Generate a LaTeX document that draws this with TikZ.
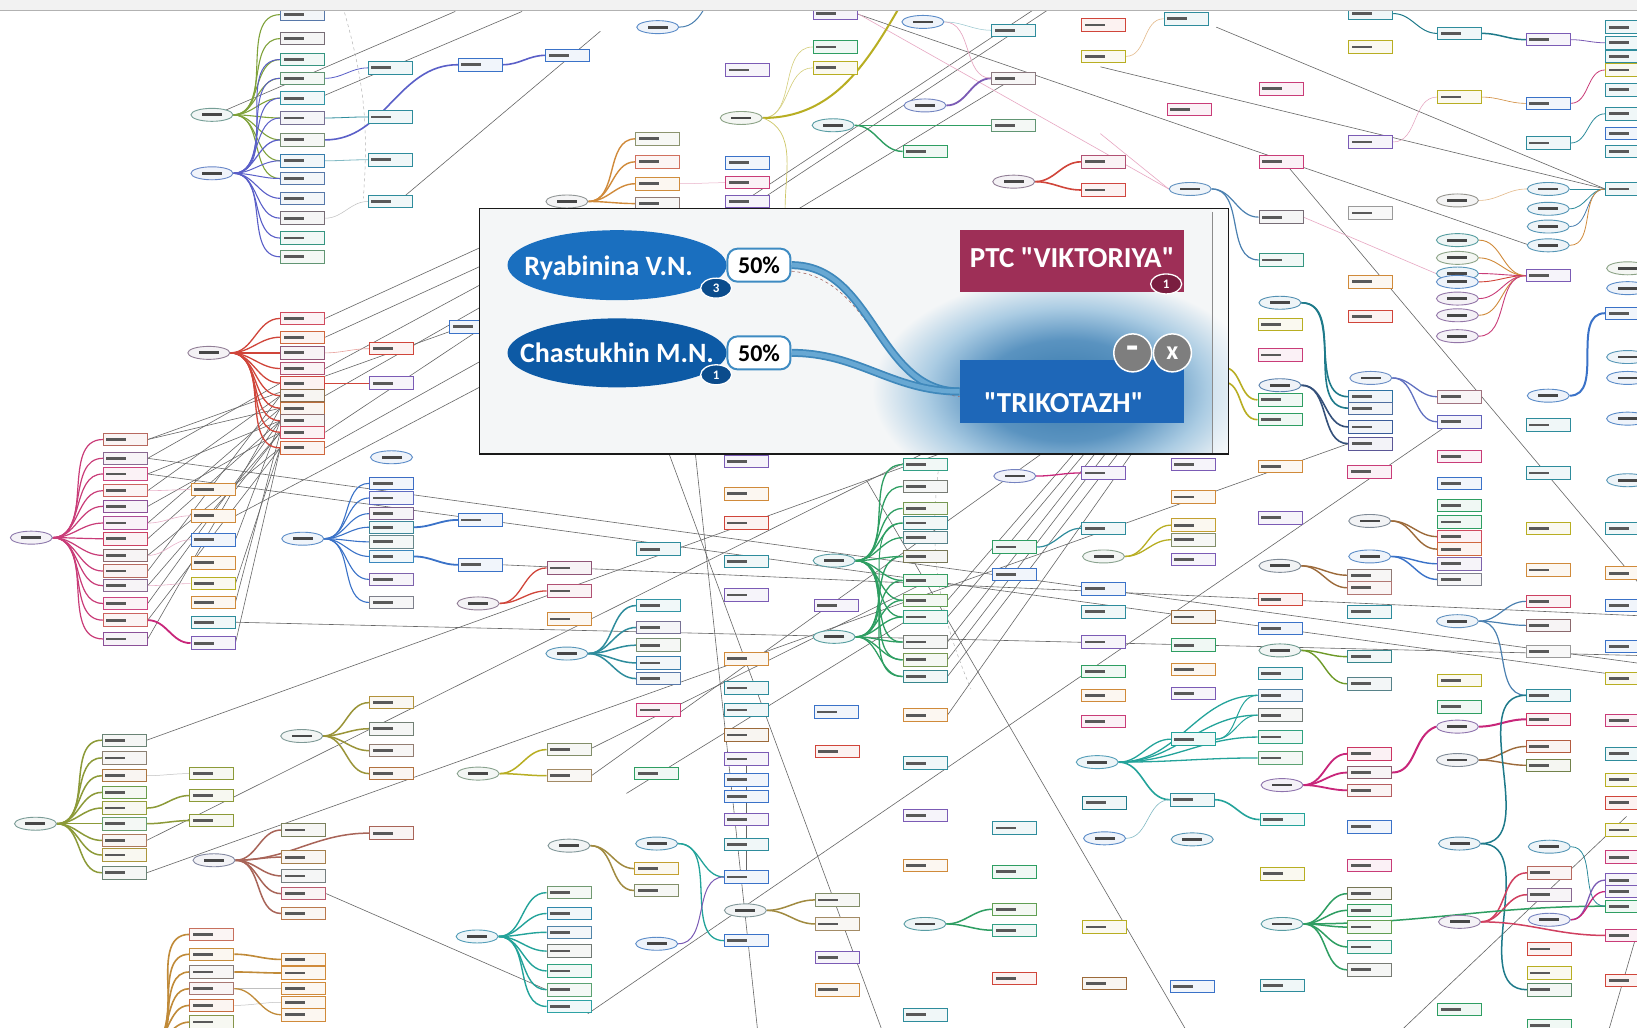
\documentclass[tikz,border=0pt]{standalone}
\usepackage{fontspec}
\newfontfamily\popfont{Carlito}
\usetikzlibrary{shapes.geometric}
\pgfdeclarelayer{bg}
\pgfdeclarelayer{lines}
\pgfdeclarelayer{edges}
\pgfdeclarelayer{top}
\pgfsetlayers{bg,lines,edges,main,top}
\definecolor{cA1}{HTML}{7FA23A}
\definecolor{cA2}{HTML}{5A5FC8}
\definecolor{cB}{HTML}{D0453A}
\definecolor{cC}{HTML}{C93C78}
\definecolor{cC2}{HTML}{3A72C8}
\definecolor{cD}{HTML}{8C9A38}
\definecolor{cE}{HTML}{A86458}
\definecolor{cF}{HTML}{9A9438}
\definecolor{cG}{HTML}{C08A38}
\definecolor{cH}{HTML}{B8AE22}
\definecolor{cJ}{HTML}{2E8C9C}
\definecolor{cK}{HTML}{2E9E62}
\definecolor{cT}{HTML}{23A39A}
\definecolor{cM}{HTML}{C8267A}
\definecolor{cN}{HTML}{34507A}
\definecolor{cO}{HTML}{D08A3A}
\definecolor{cP}{HTML}{7B5BB5}
\definecolor{cP2}{HTML}{6070C0}
\definecolor{cDT}{HTML}{1E7A8A}
\definecolor{cBr}{HTML}{9C6A3A}
\definecolor{cSB}{HTML}{4A80B0}
\definecolor{cRd}{HTML}{D04060}
\definecolor{cQ}{HTML}{6E9A28}
\definecolor{cOl}{HTML}{A08A40}
\definecolor{cGr}{HTML}{9A9A9A}
\definecolor{elb}{HTML}{6F9CC8}
\definecolor{bc0}{HTML}{3AA0B0}
\definecolor{bc1}{HTML}{D0508A}
\definecolor{bc2}{HTML}{D09040}
\definecolor{bc3}{HTML}{4068C0}
\definecolor{bc4}{HTML}{8A60B8}
\definecolor{bc5}{HTML}{D04848}
\definecolor{bc6}{HTML}{40A060}
\definecolor{bc7}{HTML}{A0A040}
\definecolor{popbg}{HTML}{F4F6F7}
\definecolor{glowA}{HTML}{3577AB}
\definecolor{glowM}{HTML}{5A93C0}
\definecolor{glowB}{HTML}{ABCCE3}
\definecolor{ryab}{HTML}{1A6FBF}
\definecolor{chas}{HTML}{0D5AA5}
\definecolor{cntb}{HTML}{0B4C8C}
\definecolor{pctb}{HTML}{3E8BC2}
\definecolor{ptc}{HTML}{9E2F57}
\definecolor{ptcb}{HTML}{7A1E40}
\definecolor{trik}{HTML}{1E67B8}
\definecolor{btng}{HTML}{7E7E7E}
\definecolor{conA}{HTML}{3F88BB}
\definecolor{conB}{HTML}{68A8D3}
\pgfdeclareradialshading{glow}{\pgfpoint{0bp}{0bp}}{color(0bp)=(glowA); color(11bp)=(glowM); color(18bp)=(glowB); color(25bp)=(popbg); color(50bp)=(popbg)}
\tikzset{
  bx/.style={rectangle, draw=#1, line width=0.9pt, fill=#1!7, minimum width=44pt, minimum height=12.5pt, inner sep=0pt,
    path picture={\fill[black!65] ([xshift=3pt,yshift=-1.4pt]path picture bounding box.west) rectangle ++(20pt,2.8pt);}},
  el/.style={ellipse, draw=#1, line width=0.9pt, fill=#1!10, minimum width=42pt, minimum height=13pt, inner sep=0pt,
    path picture={\fill[black!72] ([xshift=-10pt,yshift=-1.4pt]path picture bounding box.center) rectangle ++(20pt,2.8pt);}},
  gline/.style={draw=black!60, line width=0.6pt},
  pline/.style={draw=cC!45, line width=0.6pt},
  ptxt/.style={text=white, inner sep=0pt, font=\popfont\bfseries\fontsize{28}{30}\selectfont},
  pct/.style={rectangle, rounded corners=10pt, draw=pctb, line width=2pt, fill=white, minimum width=63pt, minimum height=33pt, inner sep=0pt, font=\popfont\bfseries\fontsize{24}{26}\selectfont},
  cnt/.style={ellipse, draw=white, line width=1.3pt, minimum width=31pt, minimum height=20pt, inner sep=0pt, text=white, font=\popfont\bfseries\fontsize{13}{14}\selectfont},
  btn/.style={circle, fill=btng, draw=white, line width=1.5pt, minimum size=38pt, inner sep=0pt, text=white, font=\popfont\bfseries\fontsize{26}{28}\selectfont},
  connout/.style={draw=conA, line width=8pt},
  connin/.style={draw=conB, line width=4.5pt}
}
\newcommand\mytree[8]{%
  \node[el={#4!35!elb}] (#1) at (#2,#3) {};
  \foreach \yy [count=\k] in {#7} {%
    \pgfmathtruncatemacro\mymod{mod(\k+#2,8)}%
    \edef\mycol{#5!55!bc\mymod}%
    \node[bx=\mycol] (#1-\k) at (#6,\yy) {};
    \begin{pgfonlayer}{edges}
      \draw[#4, line width=#8] (#1.east) to[out=0,in=180] (#1-\k.west);
    \end{pgfonlayer}
  }%
}
\newcommand\myboxes[2]{\foreach \xx/\yy/\cc [count=\k] in {#2} {\node[bx=\cc] (#1\k) at (\xx,\yy) {};}}
\newcommand\myells[2]{\foreach \xx/\yy/\cc [count=\k] in {#2} {\node[el={\cc!40!elb}] (#1\k) at (\xx,\yy) {};}}
\newcommand\myedges[1]{\begin{pgfonlayer}{edges}\foreach \ea/\eb/\ec/\ew in {#1} {\draw[\ec, line width=\ew] (\ea.east) to[out=0,in=180] (\eb.west);}\end{pgfonlayer}}
\newcommand\mynlines[1]{\begin{pgfonlayer}{lines}\foreach \ea/\eb in {#1} {\draw[gline] (\ea) -- (\eb);}\end{pgfonlayer}}
\newcommand\myqlines[2]{\begin{pgfonlayer}{lines}\foreach \ea/\ua/\ub [count=\k] in {#2} {\coordinate (#1\k) at (\ua,\ub); \draw[gline] (\ea) -- (#1\k);}\end{pgfonlayer}}
\newcommand\mylines[2]{\begin{pgfonlayer}{lines}\foreach \ua/\ub/\uc/\ud [count=\k] in {#2} {\coordinate (#1a\k) at (\ua,\ub); \coordinate (#1b\k) at (\uc,\ud); \draw[gline] (#1a\k) -- (#1b\k);}\end{pgfonlayer}}
\begin{document}
\begin{tikzpicture}[x=1.044pt, y=-1.044pt]
\useasboundingbox (0,0) rectangle (1568,984);
\begin{pgfonlayer}{bg}\fill[white] (0,0) rectangle (1568,984);\end{pgfonlayer}

% ---------- cluster A ----------
\mytree{A1}{203}{110}{cA1}{cJ}{290}{14,37,57,75,94,113,134,154,171}{1.1pt}
\mytree{A2}{203}{166}{cA2}{cJ}{290}{190,209,228,246}{1.1pt}
\myedges{A2/A1-3/cA2/1pt, A2/A1-4/cA2/1pt, A2/A1-5/cA2/1pt, A2/A1-6/cA2/1pt, A2/A1-7/cA2/1.2pt, A2/A1-8/cA2/1pt, A2/A1-9/cA2/1pt}
\myboxes{a}{374/65/cJ, 374/112/cJ, 374/153/cJ, 374/193/cJ, 460/62/cC2, 544/53/cC2}
\myedges{A1-4/a1/cA2/0.8pt, A1-6/a2/cJ/0.8pt, A1-8/a3/cJ!60/0.8pt, A2-2/a4/black!25/0.5pt, A1-7/a5/cA2/1.6pt, a5/a6/cA2/1.6pt}

% ---------- cluster B ----------
\mytree{B}{200}{338}{cB}{cB}{290}{305,323,338,353,367,379,391,403,414,429}{1.3pt}
\myboxes{b}{375/334/cB, 375/367/cP, 452/313/cC2}
\myedges{B-3/b1/cB!50/0.6pt, B-5/b2/cB/1pt}

% ---------- cluster C ----------
\mytree{C}{30}{515}{cC}{cC}{120}{421,439,454,470,485,501,516,532,547,561,578,594,612}{1.2pt}
\myboxes{c}{204/469/cO, 204/494/cO, 204/517/cC2, 204/539/cO, 204/559/cH, 204/577/cO, 204/596/cJ, 204/616/cP}
\myedges{C-4/c1/cC!40/0.6pt, C-6/c2/cC!40/0.6pt, C-8/c3/cC!40/0.6pt, C-10/c5/cC!40/0.6pt, C-12/c8/cM/1.8pt}
\mytree{C2}{290}{516}{cC2}{cC2}{375}{463,477,492,505,519,533,555,577}{1.1pt}
\myells{ce}{375/438/cC2}
\myboxes{d}{460/498/cC2, 460/541/cC2}
\myedges{C2-4/d1/cC2/1.8pt, C2-6/d2/cC2/1.8pt}

% ---------- clusters D E F G ----------
\mytree{D}{34}{789}{cD}{cD}{119}{709,726,743,759,774,789,805,819,836}{1.5pt}
\myboxes{dd}{203/741/cD, 203/762/cD, 203/786/cD}
\myedges{D-3/dd1/black!25/0.5pt, D-5/dd2/cD/1.5pt, D-6/dd3/cD/1.5pt}
\mytree{F}{289}{705}{cF}{cF}{375}{673,698,719,741}{1.5pt}
\mytree{E}{205}{824}{cE}{cE}{291}{795,821,839,856,875}{1.5pt}
\myboxes{ee}{375/798/cE}
\myedges{E/ee1/cE/1.5pt}
\mytree{G}{120}{1002}{cG}{cG}{203}{895,914,931,947,963,979}{1.6pt}
\myboxes{gg}{291/919/cO, 291/932/cO, 291/947/cO, 291/960/cO, 291/972/cO}
\myedges{G-2/gg1/cG/1.6pt, G-3/gg2/cG/1.6pt, G-4/gg3/black!25/0.5pt, G-5/gg4/black!25/0.5pt, G-4/gg5/cG/1.3pt}

% ---------- clusters H I J ----------
\mytree{H}{458}{741}{cH}{cH}{545}{718,743}{1.5pt}
\myboxes{h}{629/741/cK}
\mytree{I}{458}{578}{cB}{cB}{545}{544,566}{1.3pt}
\myboxes{i}{545/593/cO}
\mytree{J}{543}{626}{cJ}{cJ}{631}{580,601,618,635,650}{1.5pt}
\myboxes{j}{631/526/cJ, 631/680/cC}
\myboxes{m}{715/442/cP, 715/473/cO, 715/501/cB, 715/538/cJ, 715/570/cP, 715/631/cO, 715/659/cJ, 715/680/cJ, 715/704/cBr, 715/727/cP, 715/747/cC2, 715/763/cC2, 715/785/cP, 715/809/cJ, 715/840/cC2, 715/901/cC2}

% ---------- cluster K ----------
\mytree{K1}{799}{537}{cK}{cK}{886}{445,466,487,501,515,533,556,575,591,615,632,648}{1.3pt}
\myells{ke}{799/610/cK}
\myedges{ke1/K1-4/cK/1pt, ke1/K1-6/cK/1.3pt, ke1/K1-7/cK/1.3pt, ke1/K1-8/cK/1.3pt, ke1/K1-9/cK/1.3pt, ke1/K1-10/cK/1.3pt, ke1/K1-11/cK/1.3pt, ke1/K1-12/cK/1.3pt}
\myboxes{k}{886/685/cO, 801/580/cP, 801/682/cC2}

% ---------- right middle ----------
\myells{pe}{972/456/cP}
\myboxes{r}{1057/453/cP, 972/524/cK, 972/550/cC2, 1057/506/cJ, 1143/445/cP, 1143/476/cO, 1143/536/cP, 1057/564/cC2, 1057/586/cJ, 1057/615/cP, 1057/643/cK, 1057/666/cO, 1057/691/cC, 1143/591/cBr, 1143/618/cK, 1143/641/cO, 1143/664/cP, 1226/447/cO, 1226/496/cP, 1226/574/cB, 1226/602/cC2, 1226/645/cJ, 1312/452/cC, 1312/586/cJ, 1398/437/cC, 1398/463/cC2, 1398/484/cK, 1398/500/cK, 1398/652/cH, 1398/677/cK, 1483/453/cJ, 1483/506/cH, 1483/546/cO, 1483/624/cGr, 1483/666/cJ}
\myedges{pe1/r1/cM/1.3pt, r2/r4/cJ/1.2pt}
\mytree{Q1}{1057}{533}{cH}{cH}{1143}{503,517}{1.3pt}
\mytree{Q2}{1226}{542}{cBr}{cO}{1312}{551,563}{1.4pt}
\mytree{Q3}{1226}{623}{cQ}{cK}{1312}{629,655}{1.4pt}
\mytree{Q4}{1312}{499}{cBr}{cB}{1398}{514,526}{1.4pt}
\mytree{Q5}{1312}{533}{cC2}{cC2}{1398}{540,555}{1.4pt}
\mytree{Q6}{1396}{595}{cSB}{cC}{1483}{576,599}{1.2pt}
\myedges{Q6/r35/cSB/1.2pt}
\mytree{Q7}{1396}{696}{cM}{cM}{1483}{689}{2pt}
\mytree{Q8}{1396}{728}{cBr}{cBr}{1483}{715,733}{1.4pt}
\myboxes{rr}{1559/506/cJ, 1559/549/cO, 1559/580/cC2, 1559/619/cC2, 1559/650/cH, 1559/690/cC}

% ---------- bottom right ----------
\mytree{T}{1051}{730}{cT}{cT}{1226}{666,685,706,726}{1.3pt}
\myboxes{t}{1143/708/cT, 1142/766/cJ, 1228/785/cT}
\myedges{T/t1/cT/1.3pt, t1/T-1/cT/1pt, t1/T-2/cT/1pt, T/t2/cT/1.6pt, t2/t3/cT/1.6pt}
\mytree{PK}{1228}{752}{cM}{cM}{1312}{722,740,757}{1.8pt}
\begin{pgfonlayer}{edges}\draw[cM, line width=2pt] (Q7.west) to[out=200,in=0] (PK-2.east);\end{pgfonlayer}
\myboxes{u}{1058/769/cDT, 1312/792/cC2, 1312/829/cC, 1228/837/cH, 1058/888/cH, 1058/942/cBr, 1142/945/cC2, 1228/944/cJ, 1398/967/cK, 1484/982/cK, 1484/909/cB, 1484/932/cH}
\myells{ue}{1058/803/cC2, 1142/804/cJ, 1484/811/cJ, 1484/881/cP}
\myboxes{rc}{1559/722/cJ, 1559/747/cH, 1559/769/cB, 1559/795/cH, 1559/821/cC, 1559/843/cP, 1559/854/cP, 1559/868/cK, 1559/896/cC, 1559/939/cB}
\myedges{ue1/t2/cJ!60/0.6pt}
\mytree{GR}{1228}{885}{cK}{cK}{1312}{856,872,888,907,929}{1.5pt}
\mytree{TL}{1398}{808}{cDT}{cDT}{1484}{948}{1.5pt}
\mytree{RD}{1398}{883}{cRd}{cC}{1484}{836,857}{1.5pt}
\myedges{GR/rc8/cK/1.5pt, TL/r35/cDT/1.5pt, RD/rc9/cRd/1.5pt, ue3/rc8/cJ/0.8pt, ue4/rc6/cP/1.3pt, ue4/rc7/cM/1.3pt}

% ---------- bottom middle ----------
\mytree{TB}{457}{897}{cT}{cT}{545}{855,875,893,911,930,948,964}{1.4pt}
\mytree{BM1}{545}{810}{cOl}{cH}{629}{832,853}{1.5pt}
\myells{be}{629/808/cJ, 629/904/cC2}
\myedges{be1/m15/cT/1.3pt, be1/m16/cT/1.3pt, be2/m15/cP/1pt}
\mytree{BM2}{714}{872}{cOl}{cH}{802}{862,885}{1.5pt}
\myboxes{v}{802/720/cB, 802/917/cP, 802/948/cO, 886/731/cJ, 886/781/cP, 886/829/cO, 886/972/cJ, 972/793/cJ, 972/835/cK, 972/937/cB}
\mytree{BM3}{886}{885}{cK}{cK}{972}{871,891}{1.5pt}

% ---------- top middle ----------
\myells{te}{630/26/cC2, 884/21/cC2}
\myells{ol}{710/113/cH}
\myboxes{w}{800/13/cP, 800/45/cK, 800/65/cH, 716/67/cP, 971/29/cJ, 886/145/cK, 1057/24/cB, 1057/54/cH, 1136/18/cJ, 1139/105/cC, 716/156/cC2, 716/175/cC, 716/193/cP}
\mytree{PU}{886}{101}{cP}{cP}{971}{75}{1.8pt}
\mytree{GR2}{798}{120}{cK}{cJ}{971}{120}{1.4pt}
\mytree{RD2}{971}{174}{cB}{cB}{1057}{155,182}{1.6pt}
\mytree{BL2}{1140}{181}{cSB}{cJ}{1227}{208,249}{1.2pt}
\mytree{OR}{543}{193}{cO}{cO}{630}{133,155,176,195}{1.4pt}
\myedges{ol1/w2/cH!60/0.6pt, ol1/w3/cH!60/0.6pt, te2/PU-1/cC!50/0.6pt, GR2/w6/cK/1.4pt, te2/w5/cJ!50/0.5pt, w8/w9/cO!60/0.6pt, OR-3/w12/cC!40/0.5pt}
\coordinate (olT) at (862,6);
\coordinate (olB) at (752,200);
\coordinate (teT) at (676,6);
\begin{pgfonlayer}{edges}
\draw[cH, line width=2pt] (ol1.east) to[out=0,in=240] (olT);
\draw[cH!70, line width=0.7pt] (ol1.east) to[out=-20,in=90] (olB);
\draw[cSB, line width=1pt] (te1.east) to[out=0,in=240] (teT);
\end{pgfonlayer}

% ---------- top right ----------
\myboxes{x}{1227/85/cC, 1227/155/cC, 1313/13/cJ, 1313/45/cH, 1313/136/cP, 1313/204/cGr, 1313/270/cO, 1313/303/cB, 1398/32/cJ, 1398/93/cH, 1483/38/cP, 1483/99/cC2, 1483/137/cJ, 1559/26/cJ, 1559/41/cJ, 1559/54/cJ, 1559/67/cH, 1559/86/cJ, 1559/109/cJ, 1559/128/cC2, 1559/145/cJ, 1559/181/cJ, 1559/300/cC2, 1226/311/cH, 1226/340/cC, 1226/383/cK, 1226/402/cK, 1483/407/cJ, 1483/264/cP}
\myells{y}{1483/181/cJ, 1483/200/cJ, 1483/217/cJ, 1483/235/cJ, 1396/192/cO, 1396/230/cK, 1396/247/cH, 1396/262/cJ, 1396/270/cC2, 1396/286/cC, 1396/302/cC, 1396/322/cC, 1559/257/cH, 1559/276/cC2, 1559/342/cJ, 1559/362/cC2, 1559/401/cC2, 1483/379/cC2, 1559/460/cJ}
\myedges{y1/x22/cJ/0.8pt, y2/x22/cJ/0.8pt, y3/x22/cSB/0.8pt, y4/x22/cO/0.8pt, y5/y1/cO!60/0.6pt, y6/x29/cO/0.9pt, y7/x29/cO/0.9pt, y8/x29/cC/0.9pt, y9/x29/cB/0.9pt, y10/x29/cC/0.9pt, y11/x29/cO/0.9pt, y12/x29/cC/0.9pt, y18/x23/cC2/2pt, x9/x11/cDT/1.5pt, x11/x15/cP/0.8pt, x12/x17/cC/0.8pt, x13/x19/cJ/0.8pt, x10/x12/cO/0.6pt, x5/x10/cC!50/0.5pt, x3/x9/cDT/1pt}
\mytree{TL2}{1226}{290}{cDT}{cDT}{1313}{380,391}{1.6pt}
\mytree{NV}{1226}{369}{cN}{cN}{1313}{409,425}{1.6pt}
\mytree{BL3}{1313}{362}{cP2}{cP}{1398}{380,404}{1.3pt}
\coordinate (oa) at (1172,352);
\coordinate (ob) at (1172,366);
\begin{pgfonlayer}{edges}
\draw[cH, line width=1.6pt] (oa) to[out=0,in=180] (x26.west);
\draw[cH, line width=1.6pt] (ob) to[out=0,in=180] (x27.west);
\end{pgfonlayer}

% ---------- long grey lines ----------
\mynlines{C-1.east/B-7.west, C-3.east/B-8.west, C-4.east/B-6.west, C-5.east/B-9.west, C-6.east/B-7.west, C-7.east/B-8.west, C-8.east/B-10.west, C-9.east/B-6.west, C-10.east/B-9.west, C-11.east/B-8.west, C-12.east/B-10.west, C-13.east/B-7.west, c1.east/B-9.west, c3.east/B-8.west, c5.east/B-10.west, c6.east/B-9.west, c8.east/B-10.west, C-2.east/B-5.west, D-9.east/NV-2.west, E-4.east/TB-6.west, m10.south/m15.north}
\myqlines{q}{D-1.east/905/433, D-7.east/887/433, C-2.east/1575/636, C-3.east/1575/650, c7.east/1575/628, B-1.east/480/228, B-2.east/480/246, B-4.east/480/262, B-6.east/480/283, B-9.east/480/302, B-10.east/480/335, C-1.east/480/300, c2.east/480/360, d2.east/1575/590, K1-8.east/1030/433, K1-9.east/1040/433, K1-10.east/1050/433, K1-11.east/1060/433, K1-12.east/1072/433, k1.east/1085/433, H-2.east/1000/433}
\mylines{L}{641/435/846/990, 666/434/726/990, 563/971/1390/405, 1234/160/1575/565, 830/460/1138/990, 1558/782/1339/990, 989/10/520/320, 1003/10/534/320, 963/80/600/300, 820/13/1480/240, 560/720/882/560, 600/760/884/585, 436/11/215/106, 500/11/300/96, 575/30/385/190, 1540/990/1575/870}
\coordinate (z1) at (1054,64);
\coordinate (z2) at (1165,26);
\coordinate (z3) at (1054,128);
\begin{pgfonlayer}{lines}
\draw[gline] (z1) -- (x22.west);
\draw[gline] (z2) -- (x22.west);
\draw[pline] (w1.east) -- (BL2.west);
\draw[pline] (z3) -- (BL2.west);
\draw[pline] (BL2-1.east) -- (y8.west);
\draw[dashed, black!30, line width=0.5pt] (330,12) to[bend left=10] (348,190);
\draw[dashed, black!30, line width=0.5pt] (900,440) to[bend right=15] (930,660);
\end{pgfonlayer}

% ---------- header strip and popup ----------
\begin{pgfonlayer}{top}
\fill[black!5] (0,0) rectangle (1568,10);
\draw[black!30, line width=1pt] (0,10.5) -- (1568,10.5);
\fill[popbg] (459,200) rectangle (1177,435);
\begin{scope}
  \clip (459,200) rectangle (1177,435);
  \shade[shading=glow] (1022,374) ellipse [x radius=195pt, y radius=115pt];
  \fill[white, opacity=0.45] (1161,200) rectangle (1177,435);
\end{scope}
\draw[black!45, line width=0.4pt] (1161,203) -- (1161,435);
\draw[black!90, line width=1.3pt] (459,200) rectangle (1177,435);

\node[ellipse, fill=ryab, minimum width=219pt, minimum height=70pt, inner sep=0pt] (ryab) at (591,254) {};
\node[ptxt] (ryabt) at (583,257) {Ryabinina V.N.};
\node[ellipse, fill=chas, minimum width=219pt, minimum height=69pt, inner sep=0pt] (chas) at (591,338) {};
\node[ptxt] (chast) at (591,338) {Chastukhin M.N.};
\node[cnt, fill=cntb] (ca) at (686,276) {3};
\node[cnt, fill=cntb] (cb) at (686,359) {1};
\node[pct] (pa) at (727,254) {50\%};
\node[pct] (pb) at (727,338) {50\%};

\node[rectangle, fill=ptc, minimum width=224pt, minimum height=61pt, inner sep=0pt] (ptcbox) at (1026.5,250) {};
\node[ptxt, font=\popfont\bfseries\fontsize{29}{31}\selectfont] (ptct) at (1027,247) {PTC "VIKTORIYA"};
\node[cnt, fill=ptcb] (cc) at (1117,272) {1};

\node[rectangle, fill=trik, minimum width=224pt, minimum height=63pt, inner sep=0pt] (trik) at (1026.5,375) {};
\node[ptxt, font=\popfont\bfseries\fontsize{29}{31}\selectfont] (trikt) at (1019,386) {"TRIKOTAZH"};

\draw[dashed, line width=0.6pt, cB!45!gray] ([yshift=-6pt]pa.east) to[out=-5,in=175] ([yshift=-5pt]trik.west);
\draw[connout] (pa.east) to[out=0,in=180] (trik.west);
\draw[connin] (pa.east) to[out=0,in=180] (trik.west);
\draw[connout] (pb.east) to[out=0,in=180] (trik.west);
\draw[connin] (pb.east) to[out=0,in=180] (trik.west);

\node[btn, font=\popfont\bfseries\fontsize{40}{40}\selectfont] (bmin) at (1085,338) {\raisebox{-5pt}{-}};
\node[btn] (bclose) at (1123,338) {x};
\end{pgfonlayer}
\end{tikzpicture}
\end{document}
